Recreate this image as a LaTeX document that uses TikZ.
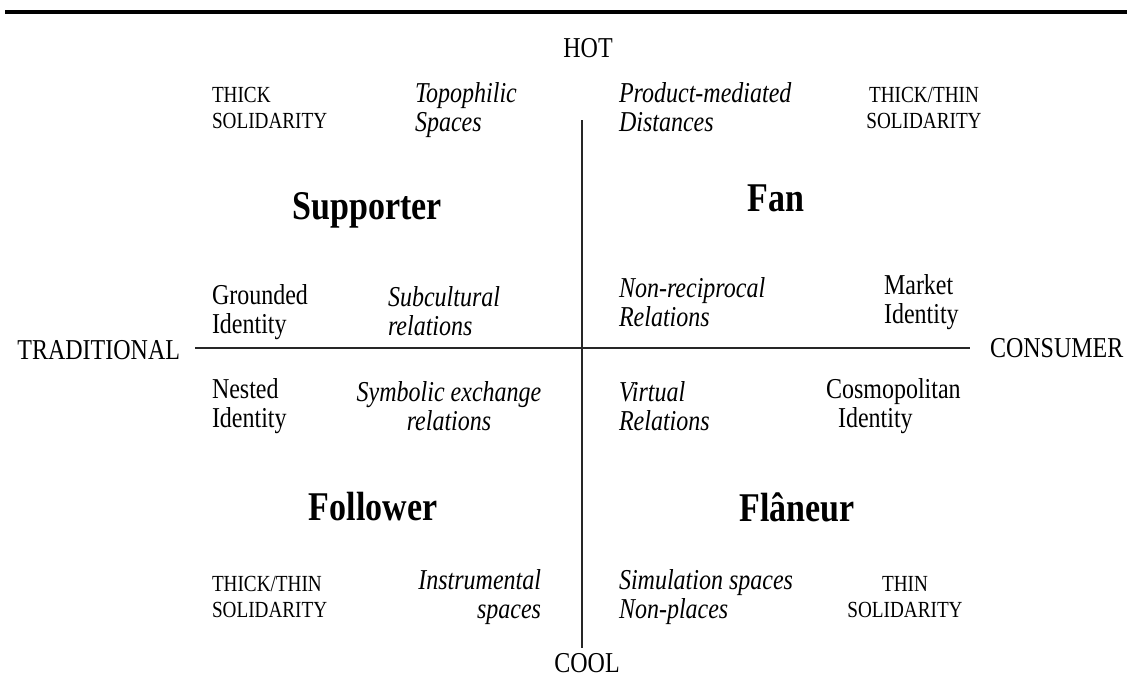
\documentclass[tikz,border=0pt]{standalone}
\usepackage{fontspec}
\setmainfont{Liberation Serif}
\begin{document}
\begin{tikzpicture}[x=1pt,y=-1pt,
  base/.style={inner sep=0pt, outer sep=0pt, yscale=1.2},
  txt/.style={base, align=left, font=\fontsize{24}{24}\selectfont},
  ittxt/.style={base, align=left, font=\fontsize{24}{24}\selectfont\itshape},
  smc/.style={base, align=left, font=\fontsize{19.2}{22}\selectfont},
  quad/.style={base, font=\fontsize{34}{34}\selectfont\bfseries},
  axislab/.style={base, font=\fontsize{24}{24}\selectfont},
  axisline/.style={line width=2.4pt, black!85},
  rule/.style={line width=4pt, black}]
\useasboundingbox (0,0) rectangle (1131,697);
% top rule
\coordinate (r1) at (5,12);
\coordinate (r2) at (1127,12);
\draw[rule] (r1) -- (r2);
% axes
\coordinate (vtop) at (582,120);
\coordinate (vbot) at (582,648);
\coordinate (hl) at (195,348);
\coordinate (hr) at (970,348);
\draw[axisline] (vtop) -- (vbot);
\draw[axisline] (hl) -- (hr);
% axis labels
\node[axislab] (hot) at (588,48) {HOT};
\node[axislab] (cool) at (587,663) {COOL};
\node[axislab, anchor=east] (trad) at (180,350) {TRADITIONAL};
\node[axislab, anchor=west] (cons) at (990,348) {CONSUMER};
% top row
\node[smc, anchor=west] (thick1) at (212,108) {THICK\\SOLIDARITY};
\node[ittxt, anchor=west] (topo) at (415,110) {Topophilic\\Spaces};
\node[ittxt, anchor=west] (prod) at (619,107) {Product-mediated\\Distances};
\node[smc, align=center] (tt1) at (924,108) {THICK/THIN\\SOLIDARITY};
% quadrant titles
\node[quad] (supp) at (367,210) {Supporter};
\node[quad] (fan) at (776,198) {Fan};
\node[quad] (foll) at (373,507) {Follower};
\node[quad] (flan) at (797,507) {Flâneur};
% near horizontal axis, above
\node[txt, anchor=west] (ground) at (212,312) {Grounded\\Identity};
\node[ittxt, anchor=west] (subc) at (388,311) {Subcultural\\relations};
\node[ittxt, anchor=west] (nonrec) at (619,302) {Non-reciprocal\\Relations};
\node[txt, anchor=west] (market) at (884,302) {Market\\Identity};
% near horizontal axis, below
\node[txt, anchor=west] (nested) at (212,406) {Nested\\Identity};
\node[ittxt, align=center] (symb) at (449,406) {Symbolic exchange\\relations};
\node[ittxt, anchor=west] (virt) at (619,406) {Virtual\\Relations};
\node[txt, anchor=west] (cosmo) at (826,406) {Cosmopolitan\\\hspace*{12pt}Identity};
% bottom row
\node[smc, anchor=west] (tt2) at (212,597) {THICK/THIN\\SOLIDARITY};
\node[ittxt, anchor=east, align=right] (instr) at (541,597) {Instrumental\\spaces};
\node[ittxt, anchor=west] (simul) at (619,597) {Simulation spaces\\Non-places};
\node[smc, align=center] (thin) at (905,597) {THIN\\SOLIDARITY};
\end{tikzpicture}
\end{document}
